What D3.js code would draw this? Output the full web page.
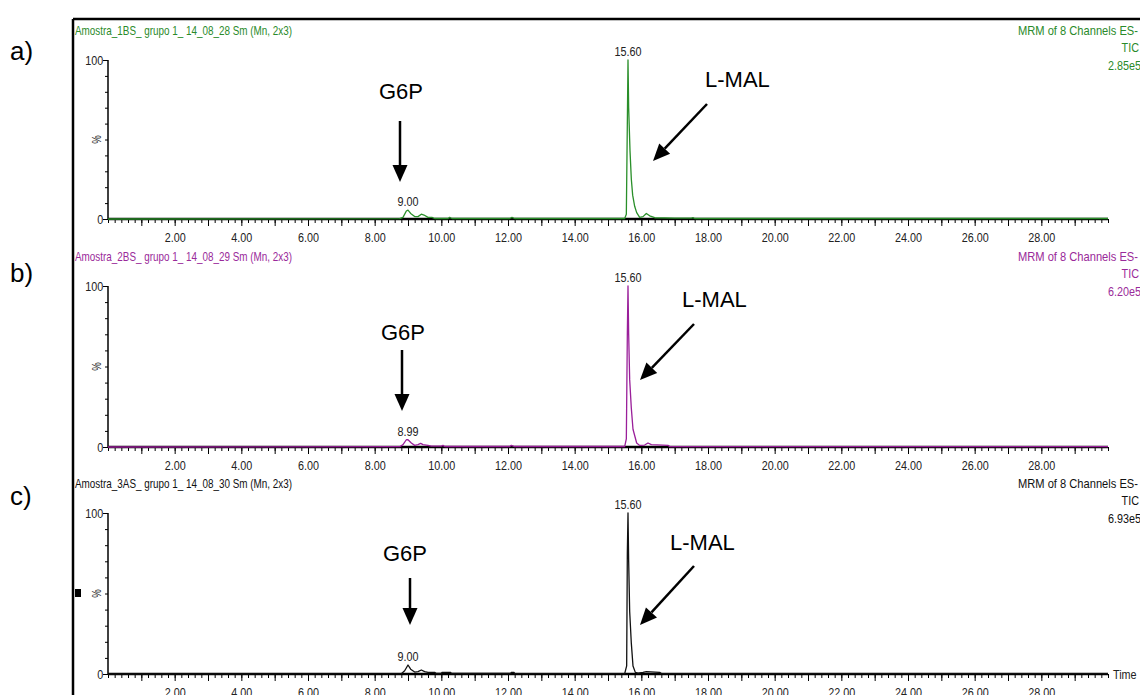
<!DOCTYPE html>
<html><head><meta charset="utf-8">
<script src="https://cdn.jsdelivr.net/npm/d3@7"></script>
<style>body{margin:0;background:#fff;} svg{display:block}</style>
</head><body><svg id="chart" width="1140" height="695"></svg>
<script>
// ---------- data ----------
const xLabelTicks = [2, 4, 6, 8, 10, 12, 14, 16, 18, 20, 22, 24, 26, 28];
const yLabelTicks = [0, 100];
const panelLetters = ["a)", "b)", "c)"];
const sampleTitles = [
  "Amostra_1BS_ grupo 1_ 14_08_28 Sm (Mn, 2x3)",
  "Amostra_2BS_ grupo 1_ 14_08_29 Sm (Mn, 2x3)",
  "Amostra_3AS_ grupo 1_ 14_08_30 Sm (Mn, 2x3)"
];
const scanLine1 = ["MRM of 8 Channels ES-", "MRM of 8 Channels ES-", "MRM of 8 Channels ES-"];
const scanLine2 = ["TIC", "TIC", "TIC"];
const maxIntensity = ["2.85e5", "6.20e5", "6.93e5"];
// [retention time (min), relative intensity (%)]
const traceA = [[0,0],[8.75,0.2],[8.85,1],[8.95,5],[9.0,5.6],[9.08,3.5],[9.2,1.5],[9.3,1.5],[9.4,3],[9.48,2.5],[9.6,1],[9.72,1],[9.8,0.3],[10.2,0.3],[10.25,1],[10.32,0.3],[12.05,0.3],[12.12,1],[12.2,0.3],[15.5,0.3],[15.55,3],[15.58,60],[15.60,100],[15.62,70],[15.66,43],[15.70,25],[15.74,15],[15.8,8],[15.86,4],[15.95,1],[16.05,1.5],[16.15,3.5],[16.25,2],[16.4,0.8],[17.0,0.6],[17.5,0.5],[17.55,0.9],[17.6,0.3],[30,0.3]];
const traceB = [[0,0],[8.75,0.2],[8.85,1.5],[8.95,4.5],[9.0,4.5],[9.1,2.5],[9.2,1],[9.3,1.5],[9.38,2.2],[9.45,1.5],[9.6,1],[9.7,0.5],[10.0,0.5],[10.05,1],[10.1,0.3],[12.05,0.3],[12.1,1],[12.2,0.3],[15.5,0.3],[15.55,5],[15.58,70],[15.60,100],[15.62,70],[15.65,42],[15.70,24],[15.75,11],[15.86,2.5],[15.95,1],[16.1,1.2],[16.2,2.5],[16.3,1.5],[16.8,1],[16.85,0.3],[30,0.2]];
const traceC = [[0,0],[8.8,0.2],[8.9,2],[9.0,5.6],[9.08,3],[9.2,1.2],[9.3,1.5],[9.4,2.5],[9.5,1.5],[9.6,1],[9.8,1],[9.85,0.3],[10.0,0.3],[10.02,1],[10.28,1],[10.3,0.3],[12.08,0.3],[12.1,1],[12.18,1],[12.2,0.3],[15.5,0.2],[15.56,5],[15.58,75],[15.60,100],[15.62,70],[15.65,39],[15.70,19],[15.75,5],[15.82,1],[15.9,0.5],[16.05,1],[16.15,1.5],[16.55,1],[16.6,0.3],[30,0.2]];
const traces = [traceA, traceB, traceC];
// peak labels: [time, intensity, text]
const peakLabels = [
  [[9.0, 5.6, "9.00"], [15.60, 100, "15.60"]],
  [[9.0, 4.5, "8.99"], [15.60, 100, "15.60"]],
  [[9.0, 5.6, "9.00"], [15.60, 100, "15.60"]]
];
const compoundNames = ["G6P", "L-MAL"];

// ---------- layout / style ----------
const W = 1140, H = 695;
const FA = "'Liberation Sans',Arial,sans-serif";
const SX = 0.8; // horizontal condensing for narrow instrument font
const colors = ["#2a8f2a", "#9a1f9a", "#111111"];
const textColors = ["#2a8a2a", "#9a2a9a", "#111111"];
const panels = [
  {yTop: 60, yBot: 219, titleY: 35, letterY: 60,
   g6p: {tx: 401, ty: 99, x1: 400, y1: 121, x2: 400, y2: 182},
   mal: {tx: 705, ty: 87, x1: 707, y1: 104, x2: 653, y2: 161}},
  {yTop: 286, yBot: 447, titleY: 261, letterY: 282,
   g6p: {tx: 403, ty: 340, x1: 402, y1: 350, x2: 402, y2: 411},
   mal: {tx: 682, ty: 307, x1: 694, y1: 324, x2: 640, y2: 380}},
  {yTop: 513, yBot: 674, titleY: 488, letterY: 505,
   g6p: {tx: 405, ty: 561, x1: 410, y1: 578, x2: 410, y2: 625},
   mal: {tx: 670, ty: 550, x1: 694, y1: 566, x2: 640, y2: 625}}
];

const svg = d3.select("#chart");
svg.append("rect").attr("width", W).attr("height", H).attr("fill", "#fff");

const x = d3.scaleLinear().domain([0, 30]).range([108, 1108]);
const minorX = d3.range(0, 30.01, 0.2).map(v => +v.toFixed(1));
const unitX = d3.range(1, 30, 1);

function ntext(g, px, py, str, size, anchor, fill) {
  return g.append("text").attr("transform", `translate(${px},${py}) scale(${SX},1)`)
    .attr("text-anchor", anchor).text(str)
    .attr("font-family", FA).attr("font-size", size).attr("fill", fill);
}

// outer frame
svg.append("line").attr("x1", 73).attr("x2", W).attr("y1", 19).attr("y2", 19).attr("stroke", "#000").attr("stroke-width", 2.5);
svg.append("line").attr("x1", 73).attr("x2", 73).attr("y1", 19).attr("y2", H).attr("stroke", "#000").attr("stroke-width", 2.5);
svg.append("rect").attr("x", 75).attr("y", 589).attr("width", 6).attr("height", 8).attr("fill", "#000");

function arrow(g, a) {
  const ang = Math.atan2(a.y2 - a.y1, a.x2 - a.x1);
  const L = 17, Wd = 7.5;
  const bx = a.x2 - L * Math.cos(ang), by = a.y2 - L * Math.sin(ang);
  g.append("line").attr("x1", a.x1).attr("y1", a.y1).attr("x2", bx).attr("y2", by)
    .attr("stroke", "#000").attr("stroke-width", 2.5);
  const px = -Math.sin(ang), py = Math.cos(ang);
  g.append("path").attr("d", `M${a.x2},${a.y2}L${bx + px * Wd},${by + py * Wd}L${bx - px * Wd},${by - py * Wd}Z`).attr("fill", "#000");
}

panels.forEach((p, i) => {
  const g = svg.append("g");
  const y = d3.scaleLinear().domain([0, 100]).range([p.yBot, p.yTop]);

  // letter
  g.append("text").attr("x", 10).attr("y", p.letterY).text(panelLetters[i])
    .attr("font-family", FA).attr("font-size", 26).attr("fill", "#000");
  // title
  g.append("text").attr("x", 75).attr("y", p.titleY).text(sampleTitles[i])
    .attr("textLength", 217).attr("lengthAdjust", "spacingAndGlyphs")
    .attr("font-family", FA).attr("font-size", 13).attr("fill", textColors[i]);
  // right header
  g.append("text").attr("x", 1018).attr("y", p.titleY).text(scanLine1[i])
    .attr("textLength", 120).attr("lengthAdjust", "spacingAndGlyphs")
    .attr("font-family", FA).attr("font-size", 13).attr("fill", textColors[i]);
  ntext(g, 1139, p.titleY + 17, scanLine2[i], 13.5, "end", textColors[i]);
  ntext(g, 1141, p.titleY + 35, maxIntensity[i], 13.5, "end", textColors[i]);

  // x axis ticks
  const xa = g.append("g").attr("transform", `translate(0,${p.yBot})`);
  xa.call(d3.axisBottom(x).tickValues(minorX).tickSize(4).tickFormat("").tickSizeOuter(0));
  const xb = g.append("g").attr("transform", `translate(0,${p.yBot})`);
  xb.call(d3.axisBottom(x).tickValues(unitX).tickSize(7).tickFormat("").tickSizeOuter(0));
  const xc = g.append("g").attr("transform", `translate(0,${p.yBot})`);
  xc.call(d3.axisBottom(x).tickValues(xLabelTicks).tickSize(0).tickFormat(d3.format(".2f")).tickSizeOuter(0));
  [xa, xb, xc].forEach(s => { s.select(".domain").remove(); s.selectAll("line").attr("stroke", "#000").attr("stroke-width", 1); });
  xc.selectAll("text").attr("y", 13).attr("dy", "0.71em").attr("transform", `scale(${SX},1)`)
    .attr("font-family", FA).attr("font-size", 13.5).attr("fill", "#222");

  // y axis
  const ya = g.append("g").attr("transform", "translate(108,0)");
  ya.call(d3.axisLeft(y).tickValues(d3.range(10, 100, 10)).tickSize(3).tickFormat("").tickSizeOuter(0));
  const yb = g.append("g").attr("transform", "translate(108,0)");
  yb.call(d3.axisLeft(y).tickValues(yLabelTicks).tickSize(5).tickFormat(d3.format("d")).tickSizeOuter(0));
  [ya, yb].forEach(s => { s.select(".domain").remove(); s.selectAll("line").attr("stroke", "#000"); });
  yb.selectAll("text").attr("x", -6).attr("transform", `scale(${SX},1)`)
    .attr("font-family", FA).attr("font-size", 13.5).attr("fill", "#222");
  g.append("line").attr("x1", 108).attr("x2", 108).attr("y1", p.yTop).attr("y2", p.yBot).attr("stroke", "#000").attr("stroke-width", 1.5);
  g.append("text").attr("transform", `translate(101,${y(50)}) rotate(-90) scale(${SX},1)`).attr("text-anchor", "middle")
    .text("%").attr("font-family", FA).attr("font-size", 12).attr("fill", "#222");

  // x baseline
  g.append("line").attr("x1", 108).attr("x2", 1108).attr("y1", p.yBot).attr("y2", p.yBot).attr("stroke", "#000").attr("stroke-width", 2.5);

  // trace
  const line = d3.line().x(d => x(d[0])).y(d => y(d[1]));
  g.append("path").datum(traces[i]).attr("d", line).attr("fill", "none")
    .attr("stroke", colors[i]).attr("stroke-width", 1.3).attr("stroke-linejoin", "round");

  // peak labels
  peakLabels[i].forEach(([t, v, s]) => {
    ntext(g, x(t), y(v) - 4, s, 13.5, "middle", "#222");
  });

  // compound annotations
  g.append("text").attr("x", p.g6p.tx).attr("y", p.g6p.ty).attr("text-anchor", "middle").text(compoundNames[0])
    .attr("font-family", FA).attr("font-size", 22).attr("fill", "#000");
  g.append("text").attr("x", p.mal.tx).attr("y", p.mal.ty).text(compoundNames[1])
    .attr("font-family", FA).attr("font-size", 22).attr("fill", "#000");
  arrow(g, p.g6p);
  arrow(g, p.mal);

  if (i === 2) {
    ntext(g, 1113, p.yBot + 5, "Time", 13.5, "start", "#222");
  }
});
</script></body></html>
